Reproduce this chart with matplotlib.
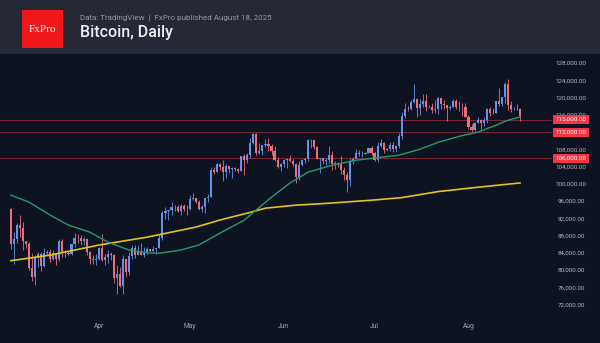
import matplotlib
matplotlib.use("Agg")
import matplotlib.pyplot as plt
import matplotlib.dates as mdates
import matplotlib.transforms as mtransforms
from matplotlib.patches import Rectangle
import numpy as np
import pandas as pd

# daily candles, BTCUSD, Mar 3 - Aug 18 2025
dates = pd.date_range("2025-03-03", "2025-08-18", freq="D")

opens = [
    # Mar
    94270, 86120, 87220, 90620, 89960, 86740, 86150, 80600, 78530, 82860, 83720, 81070, 84000, 84350, 82580,
    84080, 82720, 86850, 84170, 84050, 83830, 86050, 87500, 87470, 86900, 87200, 84350, 82600, 82330,
    # Apr
    82550, 85170, 82490, 83100, 83840, 83500, 78200, 79200, 76300, 82600, 79600, 83400, 85300, 83700, 84500,
    83600, 84000, 84900, 84450, 85060, 85170, 87500, 93440, 93700, 93940, 94720, 94650, 93750, 95040, 94270,
    # May
    94200, 96490, 96900, 95890, 94300, 94750, 96800, 97030, 103200, 102950, 104640, 104100, 102800, 104130, 103500,
    103740, 103490, 103130, 106470, 105600, 106800, 109680, 111670, 107300, 107800, 109000, 109440, 108980, 107800,
    105640, 103990,
    # Jun
    104640, 105650, 105880, 105430, 104700, 101580, 104390, 105620, 105790, 110260, 110260, 108690, 105930, 106090,
    105470, 105550, 106790, 104600, 104880, 104650, 103300, 102250, 100960, 105350, 105900, 107300, 106950, 107100,
    107300, 108380,
    # Jul
    107130, 105700, 108850, 109600, 108000, 108230, 109200, 108260, 108900, 111300, 115900, 117500, 117400, 119100,
    119800, 117700, 118700, 119300, 117900, 117900, 117300, 117400, 119900, 118700, 118300, 117600, 117900, 119400,
    118000, 117900, 117800,
    # Aug
    115700, 113300, 112500, 114200, 115000, 114100, 115000, 117500, 116600, 116500, 119300, 118700, 120200, 123300,
    118300, 117400, 117500, 117400,
]
closes = [
    86120, 87220, 90620, 89960, 86740, 86150, 80600, 78530, 82860, 83720, 81070, 84000, 84350, 82580, 84080,
    82720, 86850, 84170, 84050, 83830, 86050, 87500, 87470, 86900, 87200, 84350, 82600, 82330, 82550,
    85170, 82490, 83100, 83840, 83500, 78200, 79200, 76300, 82600, 79600, 83400, 85300, 83700, 84500, 83600,
    84000, 84900, 84450, 85060, 85170, 87500, 93440, 93700, 93940, 94720, 94650, 93750, 95040, 94270, 94200,
    96490, 96900, 95890, 94300, 94750, 96800, 97030, 103200, 102950, 104640, 104100, 102800, 104130, 103500, 103740,
    103490, 103130, 106470, 105600, 106800, 109680, 111670, 107300, 107800, 109000, 109440, 108980, 107800, 105640,
    103990, 104640,
    105650, 105880, 105430, 104700, 101580, 104390, 105620, 105790, 110260, 110300, 108690, 105930, 106090, 105470,
    105550, 106790, 104600, 104880, 104650, 103300, 102250, 100960, 105350, 105900, 107300, 106950, 107100, 107300,
    108380, 107130,
    105700, 108850, 109600, 108000, 108230, 109200, 108260, 108900, 111300, 115900, 117500, 117400, 119100, 119800,
    117700, 118700, 119300, 117900, 117900, 117300, 117400, 119900, 118700, 118300, 117600, 117900, 119400, 118000,
    117900, 117800, 115700,
    113300, 112500, 114200, 115000, 114100, 115000, 117500, 116600, 116500, 119300, 118700, 120200, 123300, 118300,
    117400, 117500, 117400, 115800,
]
highs = [
    94400, 88900, 91000, 92800, 91200, 86900, 86500, 84000, 83600, 84300, 84300, 85300, 84700, 85000, 84700,
    84000, 87400, 87400, 84800, 84500, 86100, 88700, 88500, 88300, 87800, 87500, 84600, 83500, 83900,
    85500, 88500, 83900, 84700, 84200, 83800, 81200, 80800, 83500, 82700, 84200, 85800, 86000, 85800, 86400,
    85500, 85500, 85000, 85600, 85300, 88500, 93800, 94700, 94000, 95800, 95300, 95300, 95500, 95400, 95200,
    97400, 97900, 96900, 96300, 95200, 96900, 97700, 104000, 104000, 104900, 104900, 105700, 104800, 104300, 104000,
    104100, 103700, 106600, 107100, 107300, 110700, 111900, 111800, 109500, 109200, 110400, 110700, 109300, 108900,
    106300, 104900,
    105900, 105900, 106800, 105900, 105000, 105300, 105900, 106000, 110500, 110400, 110300, 108800, 106200, 106200,
    106100, 108900, 107700, 105500, 105200, 106500, 104000, 102800, 106000, 106300, 108100, 108000, 107700, 107500,
    108500, 108800,
    107500, 109800, 110500, 109800, 108400, 109700, 109700, 109200, 111900, 116800, 118800, 118200, 119500, 123200,
    119900, 119800, 120900, 120900, 118400, 118900, 119600, 120200, 120000, 119500, 118400, 118400, 119800, 119800,
    119200, 118800, 118900,
    116100, 114000, 114400, 115700, 115100, 115700, 117600, 117900, 117700, 119300, 122300, 120300, 123700, 124400,
    119200, 117900, 118600, 117600,
]
lows = [
    85080, 81500, 86300, 87800, 84700, 85300, 80000, 77500, 76600, 80700, 79900, 80800, 83600, 82000, 82400,
    81200, 82300, 83200, 83200, 83700, 83700, 85500, 86300, 85900, 85800, 83700, 81600, 81600, 81300,
    82400, 82300, 81200, 81700, 82400, 77200, 74500, 76200, 74600, 78500, 78900, 82600, 82800, 83700, 83600,
    83100, 83800, 84300, 84400, 83900, 85100, 87000, 91900, 91700, 92800, 93800, 93600, 92900, 93800, 92900,
    94100, 96400, 95700, 94000, 93500, 93400, 95900, 97000, 102300, 102800, 103400, 100800, 101500, 102600, 101400,
    103100, 102600, 103100, 102100, 104900, 106200, 109300, 106800, 106900, 106700, 108700, 107600, 106700, 105400,
    103700, 103100,
    103900, 103700, 105200, 104200, 100400, 101000, 104300, 104900, 105300, 108400, 108200, 105800, 102700, 104800,
    104500, 105000, 103400, 103600, 103900, 102400, 101000, 98200, 99600, 104700, 105800, 106600, 106400, 106900,
    107200, 106700,
    105300, 105200, 108600, 107300, 107800, 107800, 107500, 107500, 108400, 110600, 115300, 116900, 117300, 118900,
    115700, 116000, 117800, 116900, 117600, 116600, 116500, 116200, 117400, 117400, 114700, 117200, 117800, 117400,
    116900, 115800, 115500,
    112700, 112000, 112000, 114100, 112700, 113400, 114300, 115900, 116300, 116500, 118100, 118100, 118900, 117200,
    116800, 117200, 117300, 114700,
]

# moving averages
ma50_dates = ["2025-03-03", "2025-03-09", "2025-03-16", "2025-03-22", "2025-03-29", "2025-04-04", "2025-04-11",
              "2025-04-18", "2025-04-21", "2025-04-28", "2025-05-04", "2025-05-11", "2025-05-19", "2025-05-28",
              "2025-06-03", "2025-06-09", "2025-06-17", "2025-06-25", "2025-07-03", "2025-07-09", "2025-07-16",
              "2025-07-22", "2025-07-29", "2025-08-04", "2025-08-10", "2025-08-14", "2025-08-18"]
ma50_values = [97460, 95850, 92830, 90520, 88900, 86580, 84730,
               84040, 84000, 84730, 85900, 88670, 91680, 97000,
               100240, 102790, 104410, 105570, 106260, 106730, 108110,
               109730, 111120, 112050, 113670, 114830, 115600]

ma200_dates = ["2025-03-03", "2025-03-16", "2025-04-01", "2025-04-17", "2025-05-03", "2025-05-12", "2025-05-20",
               "2025-05-26", "2025-06-05", "2025-06-16", "2025-06-30", "2025-07-10", "2025-07-22", "2025-08-04",
               "2025-08-18"]
ma200_values = [82270, 83575, 85890, 87740, 90060, 91900, 93300,
                94450, 95150, 95600, 96300, 96900, 98300, 99300,
                100300]

levels = [115000, 112000, 106000]
price_ticks = list(range(72000, 128001, 4000))
months = ["2025-04-01", "2025-05-01", "2025-06-01", "2025-07-01", "2025-08-01"]
month_labels = ["Apr", "May", "Jun", "Jul", "Aug"]

BG = "#0d1320"
HEADER = "#252935"
UP = "#6592e8"
DOWN = "#ee6d79"
TXT = "#b2b5be"

plt.rcParams["font.family"] = ["Roboto", "DejaVu Sans"]

fig = plt.figure(figsize=(6, 3.43), dpi=100)
fig.patch.set_facecolor(BG)

# header band
fig.patches.append(Rectangle((0, 289 / 343), 1, 54 / 343, transform=fig.transFigure,
                             facecolor=HEADER, edgecolor="none", zorder=0))
fig.patches.append(Rectangle((22 / 600, 1 - 48 / 343), 41 / 600, 38 / 343, transform=fig.transFigure,
                             facecolor="#f0181a", edgecolor="none", zorder=1))
fig.text(42.5 / 600, 1 - 29 / 343, "FxPro", color="white", fontsize=8, family="Liberation Serif",
         ha="center", va="center")
fig.text(80 / 600, 1 - 18 / 343, "Data: TradingView  |  FxPro published August 18, 2025", color="#9598a1",
         fontsize=5.8, ha="left", va="center")
fig.text(80 / 600, 1 - 32.5 / 343, "Bitcoin, Daily", color="#eceef1", fontsize=11.5, fontweight="medium",
         ha="left", va="center")

ax = fig.add_axes([0, 0, 1, 289 / 343])
ax.set_facecolor(BG)
for s in ax.spines.values():
    s.set_visible(False)
ax.set_xticks([])
ax.set_yticks([])

x = mdates.date2num(dates)
o = np.array(opens, dtype=float)
c = np.array(closes, dtype=float)
h = np.array(highs, dtype=float)
l = np.array(lows, dtype=float)
cols = [UP if cc >= oo else DOWN for oo, cc in zip(o, c)]

ax.vlines(x, l, h, colors=cols, linewidth=0.6, zorder=3)
body = np.maximum(np.abs(c - o), 90)
ax.bar(x, body, bottom=np.minimum(o, c), width=0.7, color=cols, linewidth=0, zorder=4)

ax.plot(mdates.date2num(pd.to_datetime(ma200_dates)), ma200_values, color="#e2c31c", linewidth=1.2, zorder=5)
ax.plot(mdates.date2num(pd.to_datetime(ma50_dates)), ma50_values, color="#1f9e6b", linewidth=1.0, zorder=5)

x0 = x[0]
ax.set_xlim(x0 - 3.6, x0 + 194.4)
ax.set_ylim(63186, 130203)

for lv in levels:
    ax.axhline(lv, xmin=0, xmax=551 / 600, color="#7a2432", linewidth=0.8, zorder=2)

ytr = mtransforms.blended_transform_factory(ax.transAxes, ax.transData)
for v in price_ticks:
    ax.text(571 / 600, v, f"{v:,.2f}", transform=ytr, color=TXT, fontsize=4.5,
            ha="center", va="center", zorder=6)
for lv in levels:
    ax.text(571 / 600, lv, f"{lv:,.2f}", transform=ytr, color="white", fontsize=4.5,
            ha="center", va="center", zorder=8,
            bbox=dict(boxstyle="square,pad=0.35", facecolor="#f23645", edgecolor="none"))

xtr = mtransforms.blended_transform_factory(ax.transData, ax.transAxes)
for m, lab in zip(months, month_labels):
    ax.text(mdates.date2num(pd.Timestamp(m)), 17 / 289, lab, transform=xtr, color="#a3a6af",
            fontsize=4.8, ha="center", va="center")

fig.savefig("out.png", dpi=100, facecolor=BG)
